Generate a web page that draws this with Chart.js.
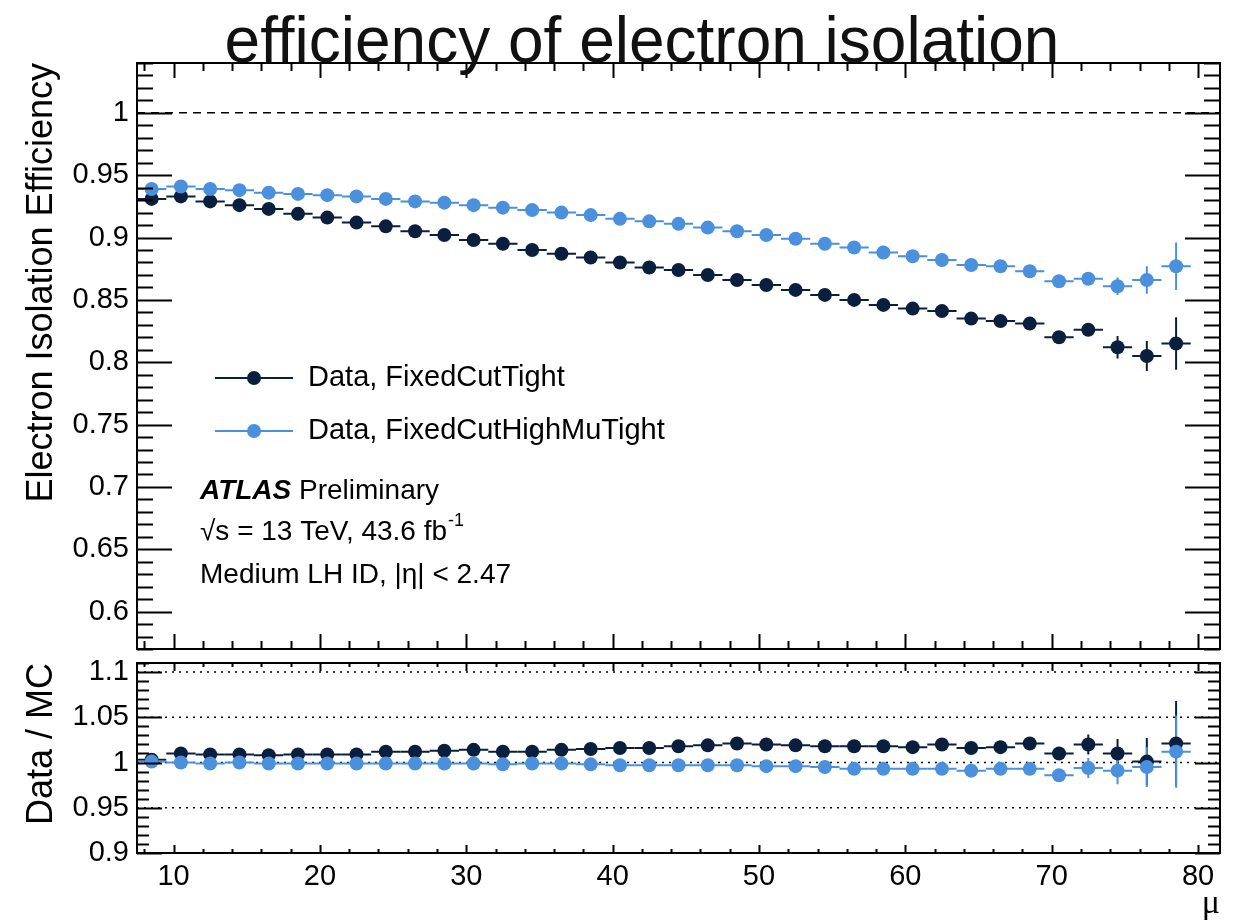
<!DOCTYPE html>
<html>
<head>
<meta charset="utf-8">
<script src="https://cdn.jsdelivr.net/npm/chart.js@4.4.1/dist/chart.umd.min.js"></script>
<style>
  body { margin: 0; background: #fff; }
  #wrap { position: relative; width: 1237px; height: 921px; }
  canvas { position: absolute; left: 0; }
  #topPanel { top: 0; }
  #ratioPanel { top: 656px; }
</style>
</head>
<body>
<div id="wrap">
  <canvas id="topPanel" width="1237" height="656"></canvas>
  <canvas id="ratioPanel" width="1237" height="265"></canvas>
</div>
<script>
// --- data ---
const muBins = [8.5, 10.5, 12.5, 14.5, 16.5, 18.5, 20.5, 22.5, 24.5, 26.5, 28.5, 30.5,
  32.5, 34.5, 36.5, 38.5, 40.5, 42.5, 44.5, 46.5, 48.5, 50.5, 52.5, 54.5,
  56.5, 58.5, 60.5, 62.5, 64.5, 66.5, 68.5, 70.5, 72.5, 74.5, 76.5, 78.5];
const binHalfWidth = 1;

const effTight = [0.931, 0.933, 0.929, 0.926, 0.923, 0.919, 0.916, 0.912, 0.909, 0.905, 0.902, 0.898,
  0.895, 0.890, 0.887, 0.884, 0.880, 0.876, 0.874, 0.870, 0.866, 0.862, 0.858, 0.854,
  0.850, 0.846, 0.843, 0.841, 0.835, 0.833, 0.831, 0.820, 0.826, 0.812, 0.805, 0.815];
const errTight = [0.001, 0.001, 0.001, 0.001, 0.001, 0.001, 0.001, 0.001, 0.001, 0.001, 0.001, 0.001,
  0.001, 0.001, 0.001, 0.001, 0.001, 0.001, 0.001, 0.001, 0.001, 0.001, 0.001, 0.001,
  0.001, 0.001, 0.001, 0.001, 0.001, 0.001, 0.0015, 0.002, 0.003, 0.009, 0.012, 0.021];

const effHighMu = [0.939, 0.941, 0.939, 0.938, 0.936, 0.935, 0.934, 0.933, 0.931, 0.929, 0.928, 0.926,
  0.924, 0.922, 0.920, 0.918, 0.915, 0.913, 0.911, 0.908, 0.905, 0.902, 0.899, 0.895,
  0.892, 0.888, 0.885, 0.882, 0.878, 0.877, 0.873, 0.865, 0.867, 0.861, 0.866, 0.877];
const errHighMu = [0.001, 0.001, 0.001, 0.001, 0.001, 0.001, 0.001, 0.001, 0.001, 0.001, 0.001, 0.001,
  0.001, 0.001, 0.001, 0.001, 0.001, 0.001, 0.001, 0.001, 0.001, 0.001, 0.001, 0.001,
  0.001, 0.001, 0.001, 0.001, 0.001, 0.001, 0.0015, 0.002, 0.004, 0.007, 0.011, 0.019];

const ratioTight = [1.003, 1.010, 1.009, 1.009, 1.008, 1.009, 1.009, 1.009, 1.012, 1.012, 1.013, 1.014,
  1.012, 1.012, 1.014, 1.015, 1.016, 1.016, 1.018, 1.019, 1.021, 1.020, 1.019, 1.018,
  1.018, 1.018, 1.017, 1.020, 1.016, 1.017, 1.021, 1.010, 1.020, 1.010, 1.001, 1.021];
const ratioErrTight = [0.002, 0.002, 0.002, 0.002, 0.002, 0.002, 0.002, 0.002, 0.002, 0.002, 0.002, 0.002,
  0.002, 0.002, 0.002, 0.002, 0.002, 0.002, 0.002, 0.002, 0.002, 0.002, 0.002, 0.002,
  0.002, 0.002, 0.002, 0.002, 0.003, 0.003, 0.003, 0.006, 0.011, 0.016, 0.026, 0.047];

const ratioHighMu = [1.001, 1.000, 0.999, 1.000, 0.999, 0.999, 0.999, 0.999, 0.999, 0.999, 0.999, 0.999,
  0.998, 0.999, 0.999, 0.998, 0.997, 0.997, 0.997, 0.997, 0.997, 0.996, 0.996, 0.995,
  0.993, 0.993, 0.993, 0.993, 0.991, 0.993, 0.993, 0.986, 0.994, 0.991, 0.995, 1.012];
const ratioErrHighMu = [0.002, 0.002, 0.002, 0.002, 0.002, 0.002, 0.002, 0.002, 0.002, 0.002, 0.002, 0.002,
  0.002, 0.002, 0.002, 0.002, 0.002, 0.002, 0.002, 0.002, 0.002, 0.002, 0.002, 0.002,
  0.002, 0.002, 0.002, 0.002, 0.003, 0.003, 0.003, 0.0055, 0.011, 0.015, 0.022, 0.040];

const seriesNames = ['Data, FixedCutTight', 'Data, FixedCutHighMuTight'];
const xTicks = [10, 20, 30, 40, 50, 60, 70, 80];
const yTicksTop = [0.6, 0.65, 0.7, 0.75, 0.8, 0.85, 0.9, 0.95, 1];
const yTicksRatio = [0.9, 0.95, 1, 1.05, 1.1];

const FONT = '"Liberation Sans", Arial, Helvetica, sans-serif';
const darkBlue = '#0a1f3e';
const lightBlue = '#4a90dc';

function toPoints(vals) {
  return muBins.map((m, i) => ({ x: m, y: vals[i] }));
}

function fmt(v) {
  return String(+Number(v).toFixed(2));
}

// ROOT-style frame, inner ticks, reference lines and error bars
const rootFrame = {
  id: 'rootFrame',
  beforeDatasetsDraw(chart, args, opts) {
    const { ctx, chartArea: a } = chart;
    const xs = chart.scales.x, ys = chart.scales.y;
    ctx.save();
    (opts.refLines || []).forEach(r => {
      const y = ys.getPixelForValue(r.value);
      ctx.beginPath();
      ctx.setLineDash(r.dash);
      ctx.lineWidth = 1.5;
      ctx.strokeStyle = '#000';
      ctx.moveTo(a.left, y);
      ctx.lineTo(a.right, y);
      ctx.stroke();
    });
    ctx.setLineDash([]);
    chart.data.datasets.forEach(ds => {
      ctx.strokeStyle = ds.backgroundColor;
      ctx.lineWidth = 2;
      ds.data.forEach((p, i) => {
        const e = ds.errors[i];
        const px = xs.getPixelForValue(p.x);
        const py = ys.getPixelForValue(p.y);
        ctx.beginPath();
        ctx.moveTo(xs.getPixelForValue(p.x - binHalfWidth), py);
        ctx.lineTo(xs.getPixelForValue(p.x + binHalfWidth), py);
        ctx.moveTo(px, ys.getPixelForValue(p.y - e));
        ctx.lineTo(px, ys.getPixelForValue(p.y + e));
        ctx.stroke();
      });
    });
    ctx.restore();
  },
  afterDraw(chart, args, opts) {
    const { ctx, chartArea: a } = chart;
    const xs = chart.scales.x, ys = chart.scales.y;
    ctx.save();
    ctx.strokeStyle = '#000';
    ctx.lineWidth = 2;
    ctx.beginPath();
    // y ticks, left and right
    for (let k = Math.ceil(ys.min * 100 - 1e-6); k <= Math.floor(ys.max * 100 + 1e-6); k++) {
      const v = k / 100;
      const y = Math.round(ys.getPixelForValue(v)) + 0.5;
      const major = k % 5 === 0;
      const len = major ? opts.yMajorLen : opts.yMinorLen;
      ctx.moveTo(a.left, y); ctx.lineTo(a.left + len, y);
      ctx.moveTo(a.right, y); ctx.lineTo(a.right - len, y);
    }
    // x ticks, bottom and top
    for (let v = Math.ceil(xs.min / 2) * 2; v <= xs.max; v += 2) {
      const x = Math.round(xs.getPixelForValue(v)) + 0.5;
      const major = v % 10 === 0;
      const len = major ? opts.xMajorLen : opts.xMinorLen;
      ctx.moveTo(x, a.bottom); ctx.lineTo(x, a.bottom - len);
      ctx.moveTo(x, a.top); ctx.lineTo(x, a.top + len);
    }
    ctx.stroke();
    ctx.strokeRect(a.left, a.top, a.right - a.left, a.bottom - a.top);
    ctx.restore();
  }
};

// legend + ATLAS labels + title on the top panel
const topDecor = {
  id: 'topDecor',
  afterDraw(chart) {
    const { ctx } = chart;
    ctx.save();
    ctx.fillStyle = '#111';
    ctx.textBaseline = 'alphabetic';
    ctx.textAlign = 'center';
    ctx.font = '64px ' + FONT;
    ctx.fillText('efficiency of electron isolation', 642, 62);

    ctx.fillStyle = '#000';
    ctx.textAlign = 'left';
    ctx.textBaseline = 'middle';
    const rows = [378, 431];
    chart.data.datasets.forEach((ds, i) => {
      const y = rows[i];
      ctx.strokeStyle = ds.backgroundColor;
      ctx.lineWidth = 2;
      ctx.beginPath();
      ctx.moveTo(215, y); ctx.lineTo(293, y);
      ctx.stroke();
      ctx.fillStyle = ds.backgroundColor;
      ctx.beginPath();
      ctx.arc(254, y, 7, 0, Math.PI * 2);
      ctx.fill();
      ctx.fillStyle = '#000';
      ctx.font = '29px ' + FONT;
      ctx.fillText(ds.label, 308, y);
    });

    ctx.font = 'italic bold 28px ' + FONT;
    ctx.fillText('ATLAS', 200, 491);
    let w = ctx.measureText('ATLAS ').width;
    ctx.font = '28px ' + FONT;
    ctx.fillText('Preliminary', 200 + w, 491);

    const s = '\u221As = 13 TeV, 43.6 fb';
    ctx.fillText(s, 200, 532);
    w = ctx.measureText(s).width;
    ctx.font = '18px ' + FONT;
    ctx.fillText('-1', 200 + w + 1, 521);

    ctx.font = '28px ' + FONT;
    ctx.fillText('Medium LH ID, |\u03B7| < 2.47', 200, 575);
    ctx.restore();
  }
};

function yAxis(min, max, ticks, title) {
  return {
    min: min, max: max,
    afterFit: s => { s.width = 137; s.paddingTop = 0; s.paddingBottom = 0; },
    afterBuildTicks: s => { s.ticks = ticks.map(v => ({ value: v })); },
    grid: { display: false, drawTicks: false },
    border: { display: false },
    ticks: { font: { size: 29, family: FONT }, color: '#000', padding: 8, callback: v => fmt(v) },
    title: { display: true, text: title, align: 'end', color: '#000',
      font: { size: 36, family: FONT, lineHeight: 1.2 }, padding: { top: 20, bottom: 0 } }
  };
}

const common = {
  responsive: false,
  animation: false,
  events: [],
  plugins: { legend: { display: false }, tooltip: { enabled: false } }
};

function makeDatasets(a, ea, b, eb) {
  return [
    { label: seriesNames[0], data: toPoints(a), errors: ea, backgroundColor: darkBlue, borderColor: darkBlue,
      pointRadius: 7, borderWidth: 0, order: 1 },
    { label: seriesNames[1], data: toPoints(b), errors: eb, backgroundColor: lightBlue, borderColor: lightBlue,
      pointRadius: 7, borderWidth: 0, order: 0 }
  ];
}

new Chart(document.getElementById('topPanel'), {
  type: 'scatter',
  data: { datasets: makeDatasets(effTight, errTight, effHighMu, errHighMu) },
  options: Object.assign({}, common, {
    layout: { padding: { top: 63, right: 17, bottom: 7, left: 0 } },
    plugins: Object.assign({}, common.plugins, {
      rootFrame: { yMajorLen: 35, yMinorLen: 16, xMajorLen: 15, xMinorLen: 8,
        refLines: [{ value: 1, dash: [8, 6] }] }
    }),
    scales: {
      x: { type: 'linear', min: 7.5, max: 81.5, display: false },
      y: yAxis(0.57, 1.04, yTicksTop, 'Electron Isolation Efficiency')
    }
  }),
  plugins: [rootFrame, topDecor]
});

new Chart(document.getElementById('ratioPanel'), {
  type: 'scatter',
  data: { datasets: makeDatasets(ratioTight, ratioErrTight, ratioHighMu, ratioErrHighMu) },
  options: Object.assign({}, common, {
    layout: { padding: { top: 7, right: 17, bottom: 0, left: 0 } },
    plugins: Object.assign({}, common.plugins, {
      rootFrame: { yMajorLen: 25, yMinorLen: 12, xMajorLen: 8, xMinorLen: 4,
        refLines: [1.1, 1.05, 1, 0.95].map(v => ({ value: v, dash: [2, 5] })) }
    }),
    scales: {
      x: {
        type: 'linear', min: 7.5, max: 81.5,
        afterFit: s => { s.height = 68; s.paddingLeft = 0; s.paddingRight = 0; },
        afterBuildTicks: s => { s.ticks = xTicks.map(v => ({ value: v })); },
        grid: { display: false, drawTicks: false },
        border: { display: false },
        ticks: { font: { size: 29, family: FONT }, color: '#000', padding: 7, maxRotation: 0 },
        title: { display: true, text: '\u03BC', align: 'end', color: '#000',
          font: { size: 34, family: '"Liberation Serif", "DejaVu Serif", serif', lineHeight: 1 },
          padding: { top: 0, bottom: 0 } }
      },
      y: yAxis(0.9, 1.11, yTicksRatio, 'Data / MC')
    }
  }),
  plugins: [rootFrame]
});
</script>
</body>
</html>
